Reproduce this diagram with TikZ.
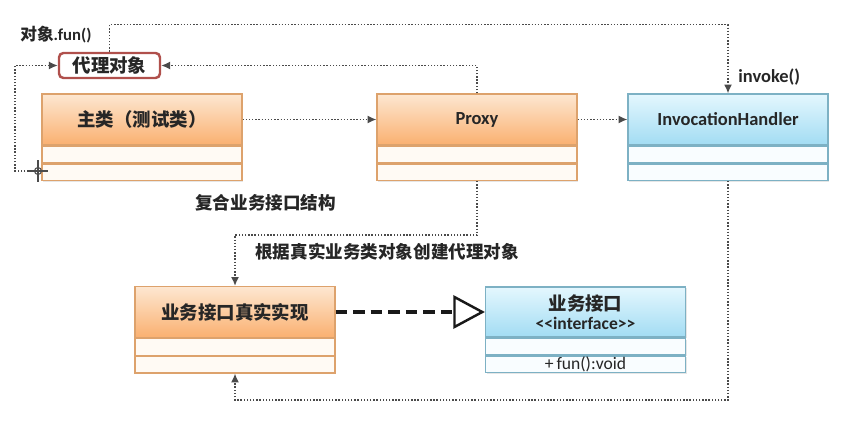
\documentclass[tikz,border=0pt]{standalone}
\usepackage{fontspec}
\setmainfont{Carlito}
\newfontfamily\cjk{Noto Sans CJK SC}
\usetikzlibrary{positioning,arrows.meta,shadows}

\definecolor{orangetop}{HTML}{FDE7D1}
\definecolor{orangebot}{HTML}{FAB070}
\definecolor{orangeline}{HTML}{DDA26C}
\definecolor{orangecell}{HTML}{FFFAF4}
\definecolor{bluetop}{HTML}{E4F7FE}
\definecolor{bluebot}{HTML}{A2DCF3}
\definecolor{blueline}{HTML}{7DB1C4}
\definecolor{bluecell}{HTML}{F9FDFF}
\definecolor{agentred}{HTML}{B0504C}
\definecolor{wiregray}{HTML}{4A4A4A}

\tikzset{
  classhead/.style = {rectangle, draw, line width=0.7pt, minimum width=4cm, minimum height=1.02cm,
                      inner sep=0pt, align=center, text=black!85,
                      drop shadow={opacity=0.2, shadow xshift=0.8pt, shadow yshift=-0.8pt}},
  classcell/.style = {rectangle, draw, line width=0.7pt, minimum width=4cm, minimum height=0.33cm,
                      inner sep=0pt, text=black!85, font=\fontsize{9.5}{11}\selectfont,
                      drop shadow={opacity=0.2, shadow xshift=0.8pt, shadow yshift=-0.8pt}},
  orangehead/.style = {classhead, draw=orangeline, top color=orangetop, bottom color=orangebot},
  bluehead/.style   = {classhead, draw=blueline, top color=bluetop, bottom color=bluebot},
  orangecell/.style = {classcell, draw=orangeline, fill=orangecell},
  bluecell/.style   = {classcell, draw=blueline, fill=bluecell},
  cjkbold/.style    = {font=\cjk\bfseries\fontsize{10.5}{12.5}\selectfont},
  latinbold/.style  = {font=\bfseries\fontsize{10.5}{12.5}\selectfont},
  note/.style       = {anchor=west, inner sep=0pt, text=black!85},
  wireline/.style   = {densely dotted, line width=0.8pt, draw=wiregray,
                       -{Latex[length=5pt,width=4.5pt]}},
  realize/.style    = {dash pattern=on 6.5pt off 3.5pt, line width=2.2pt, draw=black!90,
                       -{Triangle[open,length=18pt,width=19pt,line width=1.4pt]}}
}

\begin{document}
\begin{tikzpicture}[x=0.02cm, y=-0.02cm]
  \useasboundingbox (0,0) rectangle (851,422);

  % classes
  \node[orangehead, cjkbold] (main) at (142,119.5) {主类（测试类）};
  \node[orangecell, below=0pt of main] (main-a) {};
  \node[orangecell, below=0pt of main-a] (main-b) {};

  \node[orangehead, latinbold] (proxy) at (477,119.5) {Proxy};
  \node[orangecell, below=0pt of proxy] (proxy-a) {};
  \node[orangecell, below=0pt of proxy-a] (proxy-b) {};

  \node[bluehead, latinbold] (handler) at (728,119.5) {InvocationHandler};
  \node[bluecell, below=0pt of handler] (handler-a) {};
  \node[bluecell, below=0pt of handler-a] (handler-b) {};

  \node[orangehead, cjkbold] (real) at (235,312) {业务接口真实实现};
  \node[orangecell, below=0pt of real] (real-a) {};
  \node[orangecell, below=0pt of real-a] (real-b) {};

  \node[bluehead, minimum height=1cm] (iface) at (585.5,312)
    {{\cjk\bfseries\fontsize{10.5}{12.5}\selectfont 业务接口}\\[-1pt]
     {\bfseries\fontsize{10}{11}\selectfont <\kern0pt<interface>\kern0pt>}};
  \node[bluecell, below=0pt of iface] (iface-a) {};
  \node[bluecell, below=0pt of iface-a, font=\fontsize{10}{11}\selectfont] (iface-b) {+\,fun():void};

  % proxy object
  \node[rectangle, rounded corners=2.5pt, draw=agentred, line width=1.4pt, fill=white,
        minimum width=2.02cm, minimum height=0.5cm, inner sep=0pt, cjkbold, text=black!85]
        (agent) at (109.5,65.5) {代理对象};

  % labels
  \node[note, font=\cjk\bfseries\fontsize{9.5}{11}\selectfont] (call) at (20,35)
    {对象{\fontspec{Carlito}\bfseries .fun()}};
  \node[note, latinbold] (invoke) at (738,77) {invoke()};
  \node[note, font=\cjk\bfseries\fontsize{10}{12}\selectfont] (compose) at (195,203) {复合业务接口结构};
  \node[note, font=\cjk\bfseries\fontsize{10}{12}\selectfont] (create) at (255,252) {根据真实业务类对象创建代理对象};

  % cursor mark
  \coordinate (hook) at (38,171);
  \draw[line width=0.6pt, black!70] (hook) circle (3.5);
  \draw[line width=0.6pt, black!70] ([xshift=-0.18cm]hook) -- ([xshift=0.2cm]hook);
  \draw[line width=0.6pt, black!70] ([yshift=0.22cm]hook) -- ([yshift=-0.22cm]hook);

  % connectors
  \draw[wireline] (agent.north) -- ++(0,-27) -| (handler.north);
  \draw[wireline] (proxy.north) |- (agent.east);
  \draw[wireline] (hook) -- ++(-23,0) |- (agent.west);
  \draw[wireline] (main.east) -- (proxy.west);
  \draw[wireline] (proxy.east) -- (handler.west);
  \draw[wireline] (proxy-b.south) -- ++(0,54) -| (real.north);
  \draw[wireline] (handler-b.south) -- ++(0,219) -| (real-b.south);
  \draw[realize] (real.east) -- (iface.west);
\end{tikzpicture}
\end{document}
